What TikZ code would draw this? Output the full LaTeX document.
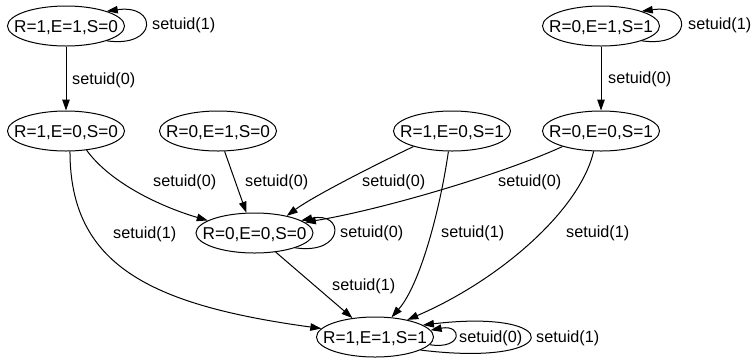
\documentclass[tikz,border=0pt]{standalone}
\usepackage{fontspec}
\setmainfont{Liberation Sans}
\usetikzlibrary{shapes.geometric,arrows.meta}
\newcommand\stlab[1]{\makebox[0pt]{\raisebox{-0.358em}[0pt][0pt]{#1}}}
\begin{document}
\begin{tikzpicture}[x=1bp,y=-1bp,
  st/.style={ellipse,draw,line width=1bp,minimum width=117bp,minimum height=40bp,inner sep=0pt,
             font=\fontsize{17.2bp}{20bp}\selectfont},
  el/.style={anchor=west,inner sep=0pt,font=\fontsize{16.2bp}{19bp}\selectfont},
  ar/.style={line width=1bp,-{Triangle[length=11bp,width=7.5bp]}}]
\useasboundingbox (0,0) rectangle (751,362);
% states
\node[st] (A) at (66,26)      {\stlab{R=1,E=1,S=0}};
\node[st] (B) at (601,26)     {\stlab{R=0,E=1,S=1}};
\node[st] (C) at (66,131)     {\stlab{R=1,E=0,S=0}};
\node[st] (D) at (218,131)    {\stlab{R=0,E=1,S=0}};
\node[st] (E) at (452,131)    {\stlab{R=1,E=0,S=1}};
\node[st] (F) at (601,131)    {\stlab{R=0,E=0,S=1}};
\node[st] (G) at (254.5,233)  {\stlab{R=0,E=0,S=0}};
\node[st] (H) at (375,337)    {\stlab{R=1,E=1,S=1}};
% transitions
\draw[ar] (A.south) -- (C.north);
\draw[ar] (B.south) -- (F.north);
\draw[ar] (A.-20) .. controls (158,48) and (158,4) .. (A.20);
\draw[ar] (B.-20) .. controls (693,48) and (693,4) .. (B.20);
\draw[ar] (C.-43) .. controls (112,185) and (165,208) .. (G.165);
\draw[ar] (C.-79) .. controls (70,265) and (150,305) .. (H.171);
\draw[ar] (D.-72) -- (G.112);
\draw[ar] (E.-158) .. controls (385,160) and (315,195) .. (G.28);
\draw[ar] (F.-158) .. controls (500,175) and (380,210) .. (G.12);
\draw[ar] (G.-20) .. controls (345,255) and (345,211) .. (G.15);
\draw[ar] (E.-100) .. controls (440,210) and (420,285) .. (H.50);
\draw[ar] (F.-110) .. controls (580,210) and (500,280) .. (H.28);
\draw[ar] (G.-42) -- (H.140);
\draw[ar] (H.-8) .. controls (463,350) and (463,324) .. (H.7);
\draw[ar] (H.-16) .. controls (566,368) and (566,308) .. (H.14);
% labels
\node[el] (l1)  at (72,80)   {setuid(0)};
\node[el] (l2)  at (152,25)  {setuid(1)};
\node[el] (l3)  at (688,25)  {setuid(1)};
\node[el] (l4)  at (608,79)  {setuid(0)};
\node[el] (l5)  at (153,182) {setuid(0)};
\node[el] (l6)  at (245,182) {setuid(0)};
\node[el] (l7)  at (362,182) {setuid(0)};
\node[el] (l8)  at (498,182) {setuid(0)};
\node[el] (l9)  at (113,234) {setuid(1)};
\node[el] (l10) at (340,233) {setuid(0)};
\node[el] (l11) at (441,233) {setuid(1)};
\node[el] (l12) at (566,233) {setuid(1)};
\node[el] (l13) at (332,286) {setuid(1)};
\node[el] (l14) at (459,338) {setuid(0)};
\node[el] (l15) at (536,338) {setuid(1)};
\end{tikzpicture}
\end{document}
